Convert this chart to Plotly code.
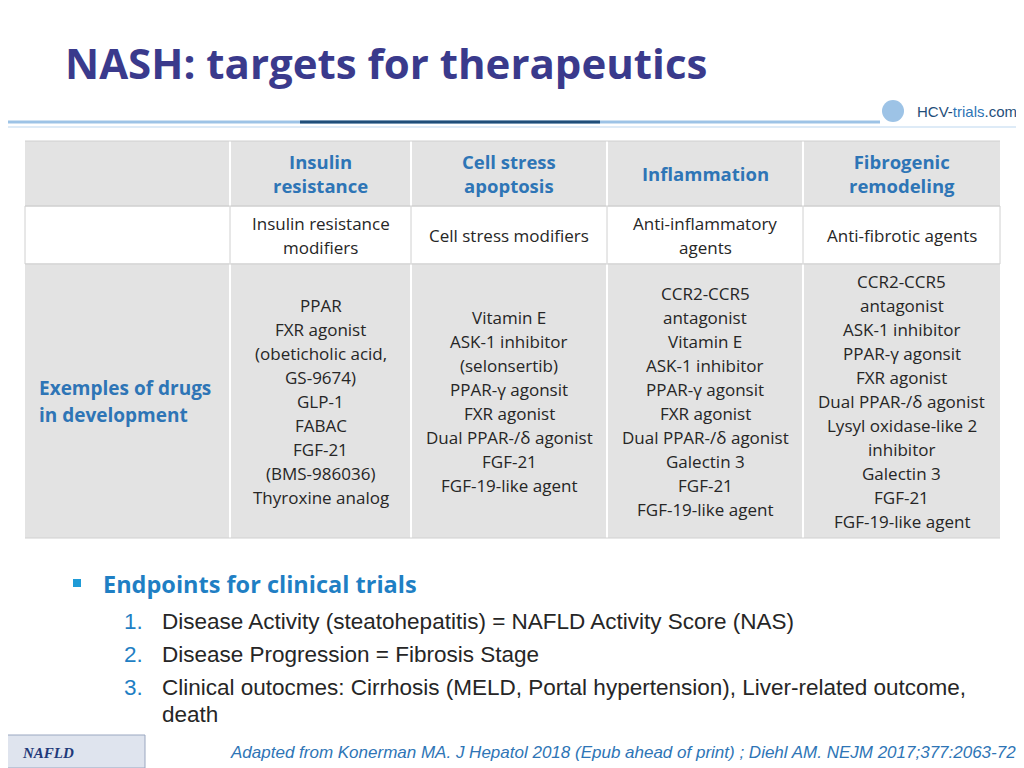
import plotly.graph_objects as go

title = "NASH: targets for therapeutics"
col_headers = ["Insulin<br>resistance", "Cell stress<br>apoptosis", "Inflammation", "Fibrogenic<br>remodeling"]
sub_headers = [["Insulin resistance", "modifiers"], ["Cell stress modifiers"], ["Anti-inflammatory", "agents"], ["Anti-fibrotic agents"]]
row_label = ["Exemples of drugs", "in development"]
drugs = [
    ["PPAR", "FXR agonist", "(obeticholic acid,", "GS-9674)", "GLP-1", "FABAC", "FGF-21", "(BMS-986036)", "Thyroxine analog"],
    ["Vitamin E", "ASK-1 inhibitor", "(selonsertib)", "PPAR-γ agonsit", "FXR agonist", "Dual PPAR-/δ agonist", "FGF-21", "FGF-19-like agent"],
    ["CCR2-CCR5", "antagonist", "Vitamin E", "ASK-1 inhibitor", "PPAR-γ agonsit", "FXR agonist", "Dual PPAR-/δ agonist", "Galectin 3", "FGF-21", "FGF-19-like agent"],
    ["CCR2-CCR5", "antagonist", "ASK-1 inhibitor", "PPAR-γ agonsit", "FXR agonist", "Dual PPAR-/δ agonist", "Lysyl oxidase-like 2", "inhibitor", "Galectin 3", "FGF-21", "FGF-19-like agent"],
]
endpoint_title = "Endpoints for clinical trials"
endpoints = ["Disease Activity (steatohepatitis) = NAFLD Activity Score (NAS)",
             "Disease Progression = Fibrosis Stage",
             "Clinical outocmes: Cirrhosis (MELD, Portal hypertension), Liver-related outcome,",
             "death"]
endpoint_nums = ["1.", "2.", "3.", ""]
footer = "Adapted from Konerman MA. J Hepatol 2018 (Epub ahead of print) ; Diehl AM. NEJM 2017;377:2063-72"

col_x = [25, 230, 411, 607, 803, 1000]
row_y = [141, 206, 264, 538]
BLUE = "#2E75B6"
TXT = "#262626"
OS = "Open Sans"

fig = go.Figure()
shapes = []
ann = []

shapes.append(dict(type="line", x0=0, x1=880, y0=122, y1=122, line=dict(color="#9dc3e6", width=3)))
shapes.append(dict(type="line", x0=300, x1=600, y0=122, y1=122, line=dict(color="#1f4e79", width=3)))
shapes.append(dict(type="line", x0=0, x1=1024, y0=127, y1=127, line=dict(color="#deebf7", width=2)))

shapes.append(dict(type="rect", x0=col_x[0], x1=col_x[-1], y0=row_y[0], y1=row_y[1], fillcolor="#e3e3e3", line_width=0))
shapes.append(dict(type="rect", x0=col_x[0], x1=col_x[-1], y0=row_y[1], y1=row_y[2], fillcolor="white", line=dict(color="#d0d0d0", width=1)))
shapes.append(dict(type="rect", x0=col_x[0], x1=col_x[-1], y0=row_y[2], y1=row_y[3], fillcolor="#e3e3e3", line_width=0))
for xv in col_x[1:-1]:
    shapes.append(dict(type="line", x0=xv, x1=xv, y0=row_y[0], y1=row_y[3], line=dict(color="white", width=2)))
    shapes.append(dict(type="line", x0=xv, x1=xv, y0=row_y[1], y1=row_y[2], line=dict(color="#d0d0d0", width=1)))
for yv in row_y:
    shapes.append(dict(type="line", x0=col_x[0], x1=col_x[-1], y0=yv, y1=yv, line=dict(color="#d0d0d0", width=1)))

ann.append(dict(x=63, y=62, text="<b>"+title+"</b>", xanchor="left", yanchor="middle",
                font=dict(family=OS, size=42, color="#3a3a8c")))
ann.append(dict(x=1019, y=111, text="<span style='color:#1f4e79'>HCV</span>-<span style='color:#2e75b6'>trials</span><span style='color:#1f4e79'>.com</span>",
                xanchor="right", yanchor="middle", font=dict(family="Liberation Sans", size=15)))
shapes.append(dict(type="circle", x0=882, x1=904, y0=100, y1=122, fillcolor="#9dc3e6", line_width=0))

for i in range(4):
    cx = (col_x[i+1] + col_x[i+2]) / 2
    ann.append(dict(x=cx, y=(row_y[0]+row_y[1])/2, text="<b>"+col_headers[i]+"</b>", xanchor="center", yanchor="middle",
                    font=dict(family=OS, size=18.5, color=BLUE), align="center"))
    lines = sub_headers[i]
    for j, t in enumerate(lines):
        y = 235 + (j - (len(lines)-1)/2) * 24
        ann.append(dict(x=cx, y=y, text=t, xanchor="center", yanchor="middle", font=dict(family=OS, size=17, color=TXT)))
    d = drugs[i]
    for j, t in enumerate(d):
        y = 401 + (j - (len(d)-1)/2) * 24
        ann.append(dict(x=cx, y=y, text=t, xanchor="center", yanchor="middle", font=dict(family=OS, size=17, color=TXT)))
for j, t in enumerate(row_label):
    ann.append(dict(x=37, y=388+27*j, text="<b>"+t+"</b>", xanchor="left", yanchor="middle", font=dict(family=OS, size=19, color=BLUE)))

shapes.append(dict(type="rect", x0=73, x1=81, y0=579, y1=587, fillcolor="#1f9bd7", line_width=0))
ann.append(dict(x=101, y=584, text="<b>"+endpoint_title+"</b>", xanchor="left", yanchor="middle", font=dict(family=OS, size=23.5, color="#1f7fc4")))
for j, (n, t) in enumerate(zip(endpoint_nums, endpoints)):
    y = 621 + 33*j if j < 3 else 714
    if n:
        ann.append(dict(x=122, y=y, text=n, xanchor="left", yanchor="middle", font=dict(family="Liberation Sans", size=22.5, color="#1f7fc4")))
    ann.append(dict(x=160, y=y, text=t, xanchor="left", yanchor="middle", font=dict(family="Liberation Sans", size=22.5, color=TXT)))

shapes.append(dict(type="rect", x0=0, x1=145, y0=735, y1=768, fillcolor="#dfe4ee", line=dict(color="#9aa7c0", width=1)))
ann.append(dict(x=20, y=753, text="<b><i>NAFLD</i></b>", xanchor="left", yanchor="middle", font=dict(family="Liberation Serif", size=15, color="#1f3a7a")))
ann.append(dict(x=228, y=752, text="<i>"+footer+"</i>", xanchor="left", yanchor="middle", font=dict(family="Liberation Sans", size=17, color="#2e75b6")))

for a in ann:
    a.update(xref="x", yref="y", showarrow=False)

fig.update_layout(width=1016, height=760, margin=dict(l=0, r=0, t=0, b=0),
                  plot_bgcolor="white", paper_bgcolor="white", shapes=shapes, annotations=ann,
                  xaxis=dict(range=[8, 1024], visible=False, fixedrange=True),
                  yaxis=dict(range=[768, 8], visible=False, fixedrange=True), showlegend=False)
fig.write_html("out.html")
